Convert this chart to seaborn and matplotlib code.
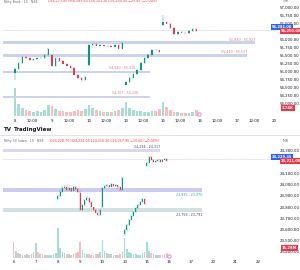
import numpy as np
import pandas as pd
import matplotlib
matplotlib.use("Agg")
import matplotlib.pyplot as plt
import seaborn as sns
from matplotlib.lines import Line2D

# ---------------- data: top chart (Nifty Bank, 15m) ----------------
bank_tick_pos = [0, 4.6, 10, 14.6, 20, 24.6, 30, 34.6, 40, 44.6, 50, 54.6, 60, 64.6, 70]
bank_tick_lbl = ["8", "12:00", "9", "12:00", "10", "12:00", "13", "12:00", "15", "12:00",
                 "16", "12:00", "17", "12:00", "20"]
bank_price_ticks = [57000, 56750, 56500, 56000, 55750, 55500, 55250, 55000, 54750, 54500, 54250, 54000]

bank_open = [54937, 55050, 55250, 55450, 55420, 55330, 55380, 55400, 55410, 55500,
             55500, 55160, 55400, 55300, 55230, 55170, 55090, 54880, 54790, 54720,
             55190, 55810, 55840, 55790, 55800, 55780, 55790, 55760, 55810, 55700,
             54560, 54660, 54780, 54910, 55030, 55250, 55400, 55500, 55660, 55650,
             56440, 56530, 56480, 56340, 56160, 56220, 56200, 56190, 56250, 56320]
bank_close = [55050, 55250, 55450, 55420, 55330, 55380, 55400, 55410, 55500, 55690,
              55160, 55400, 55300, 55230, 55170, 55090, 54880, 54790, 54720, 54810,
              55810, 55840, 55790, 55800, 55780, 55790, 55760, 55810, 55700, 55880,
              54660, 54780, 54910, 55030, 55250, 55400, 55500, 55660, 55650, 55590,
              56530, 56480, 56340, 56160, 56220, 56200, 56190, 56250, 56320, 56250]
bank_high = [55080, 55280, 55480, 55470, 55440, 55400, 55430, 55440, 55520, 55720,
             55530, 55430, 55420, 55330, 55250, 55190, 55110, 54900, 54810, 54840,
             55840, 55870, 55860, 55830, 55820, 55810, 55810, 55830, 55830, 55910,
             54690, 54810, 54940, 55060, 55280, 55430, 55530, 55690, 55690, 55670,
             56750, 56560, 56500, 56360, 56250, 56240, 56220, 56270, 56350, 56340]
bank_low = [54720, 55020, 55220, 55390, 55300, 55310, 55350, 55370, 55390, 55480,
            55130, 55140, 55280, 55210, 55150, 55070, 54860, 54760, 54690, 54700,
            55160, 55780, 55770, 55770, 55760, 55760, 55740, 55740, 55680, 55680,
            54520, 54630, 54750, 54880, 55000, 55220, 55370, 55480, 55620, 55570,
            56410, 56460, 56320, 56140, 56140, 56180, 56170, 56170, 56230, 56230]
bank_vol = [28, 12, 8, 6, 5, 4, 5, 4, 6, 11,
            10, 7, 5, 5, 4, 4, 5, 6, 5, 7,
            11, 8, 6, 5, 4, 4, 4, 5, 6, 8,
            14, 8, 6, 5, 5, 4, 4, 5, 5, 7,
            14, 9, 6, 4, 4, 3, 3, 3, 4, 6]
bank_zone_lo = [55830, 55440, 54940, 54157]
bank_zone_hi = [55927, 55527, 55010, 54226]
bank_zone_end = [64.9, 62.7, 36.5, 36.5]
bank_zone_lbl = ["55,830 - 55,927", "55,440 - 55,527", "54,940 - 55,010", "54,157 - 54,226"]
bank_last = 56281

# ---------------- data: bottom chart (Nifty 50, 15m) ----------------
nifty_tick_pos = [-20, -10, 0, 10, 20, 30, 40, 50, 60, 70, 80, 90]
nifty_tick_lbl = ["6", "7", "8", "9", "10", "13", "15", "16", "17", "20", "21", "22"]
nifty_price_ticks = [24300, 24100, 24000, 23900, 23800, 23700, 23600, 23500, 23400]

nifty_open = [23870, 23900, 23935, 23970, 23980, 23953, 23970, 23944, 23980, 23962,
              23930, 23775, 23820, 23860, 23880, 23845, 23800, 23775, 23750, 23730,
              23800, 23970, 23985, 23995, 23980, 24005, 23990, 23995, 23975, 23950,
              23560, 23596, 23641, 23685, 23721, 23756, 23792, 23819, 23846, 23872,
              24170, 24193, 24247, 24220, 24202, 24211, 24220, 24202, 24220, 24229]
nifty_close = [23900, 23935, 23970, 23980, 23953, 23970, 23944, 23980, 23962, 23935,
               23775, 23820, 23860, 23880, 23845, 23800, 23775, 23750, 23730, 23775,
               23970, 23985, 23995, 23980, 24005, 23990, 23995, 23975, 23950, 24055,
               23596, 23641, 23685, 23721, 23756, 23792, 23819, 23846, 23872, 23828,
               24193, 24247, 24220, 24202, 24211, 24220, 24202, 24220, 24229, 24211]
nifty_high = [23910, 23950, 23985, 23995, 23985, 23980, 23975, 23990, 23990, 23970,
              23940, 23830, 23870, 23895, 23885, 23850, 23805, 23780, 23755, 23785,
              23980, 23995, 24005, 24000, 24015, 24010, 24005, 24000, 23985, 24065,
              23605, 23650, 23695, 23730, 23765, 23800, 23830, 23855, 23885, 23880,
              24205, 24255, 24255, 24230, 24220, 24228, 24225, 24228, 24238, 24235]
nifty_low = [23860, 23890, 23925, 23960, 23945, 23945, 23935, 23940, 23955, 23925,
             23765, 23765, 23810, 23850, 23835, 23790, 23765, 23740, 23720, 23725,
             23790, 23960, 23975, 23970, 23975, 23980, 23980, 23965, 23940, 23945,
             23540, 23585, 23630, 23675, 23710, 23745, 23785, 23810, 23840, 23820,
             24160, 24185, 24212, 24195, 24195, 24205, 24195, 24198, 24215, 24205]
nifty_vol_pre = [16, 7, 5, 4, 3, 3, 4, 3, 4, 6,
                 15, 6, 4, 4, 3, 3, 3, 3, 4, 5]
nifty_vol_pre_dir = ["down", "up", "down", "up", "up", "down", "up", "down", "up", "down",
                     "up", "down", "down", "up", "up", "down", "up", "up", "down", "up"]
nifty_vol = [30, 10, 6, 5, 4, 4, 3, 4, 5, 6,
             16, 8, 5, 4, 4, 3, 3, 4, 4, 6,
             18, 7, 5, 4, 4, 3, 3, 3, 4, 6,
             20, 9, 6, 5, 4, 4, 3, 3, 5, 6,
             16, 7, 5, 4, 3, 3, 3, 3, 4, 5]
nifty_zone_lo = [24294, 23935, 23758]
nifty_zone_hi = [24317, 23970, 23791]
nifty_zone_end = [46.0, 65.0, 65.0]
nifty_zone_lbl = ["24,294 - 24,317", "23,935 - 23,970", "23,758 - 23,791"]
nifty_last = 24229

# ---------------- style ----------------
sns.set_theme(style="white")
plt.rcParams['font.family'] = ['DejaVu Sans']
UP, DN = "#089981", "#f23645"
UPV, DNV = "#a7dbd5", "#f9bcbf"
TXT = "#131722"
FS = 2.8

W, H = 300, 270
fig = plt.figure(figsize=(W / 100, H / 100), dpi=100)
fig.patch.set_facecolor("white")


def ax_at(x0, y0, x1, y1):
    return fig.add_axes([x0 / W, 1 - y1 / H, (x1 - x0) / W, (y1 - y0) / H])


def ptext(x, y, s, **kw):
    kw.setdefault("fontsize", FS)
    kw.setdefault("va", "center")
    return fig.text(x / W, 1 - y / H, s, **kw)


def draw_volume(ax, idx, vol, dirs, xlim, ylim, ticks, labels, pad):
    df = pd.DataFrame({"idx": idx, "vol": vol, "dir": dirs})
    sns.barplot(data=df, x="idx", y="vol", hue="dir", palette={"up": UPV, "down": DNV},
                native_scale=True, dodge=False, width=0.75, linewidth=0, saturation=1,
                errorbar=None, legend=False, ax=ax)
    ax.set_xlim(*xlim)
    ax.set_ylim(*ylim)
    ax.set_xlabel("")
    ax.set_ylabel("")
    ax.set_yticks([])
    ax.set_xticks(ticks)
    ax.set_xticklabels(labels)
    ax.tick_params(axis="x", length=0, pad=pad, labelsize=FS, colors=TXT)
    ax.set_facecolor("white")
    sns.despine(ax=ax, left=True, bottom=True)


def draw_candles(ax, o, h, l, c, width, minh):
    o, h, l, c = map(np.asarray, (o, h, l, c))
    x = np.arange(len(o))
    cols = np.where(c >= o, UP, DN)
    ax.vlines(x, l, h, colors=cols, linewidth=0.3, zorder=3)
    body = c - o
    body = np.where(np.abs(body) < minh, np.where(body >= 0, minh, -minh), body)
    ax.bar(x, body, bottom=o, width=width, color=cols, linewidth=0, zorder=4)


def price_axis(ax, xlim, ylim, ticks, skip_pad=2.2):
    ax.set_xlim(*xlim)
    ax.set_ylim(*ylim)
    ax.set_facecolor("none")
    ax.set_xticks([])
    ax.yaxis.tick_right()
    ax.set_yticks(ticks)
    ax.set_yticklabels([f"{t:,.2f}" for t in ticks])
    ax.tick_params(axis="y", length=0, pad=skip_pad, labelsize=FS, colors=TXT)
    sns.despine(ax=ax, left=True, bottom=True, right=True, top=True)


# ================= TOP PANEL =================
bx = (-3.243, 70.81)
axv1 = ax_at(3, 85, 277, 116)
bank_dirs = ["up" if c >= o else "down" for o, c in zip(bank_open, bank_close)]
draw_volume(axv1, np.arange(len(bank_vol)), bank_vol, bank_dirs, bx, (0, 31),
            bank_tick_pos, bank_tick_lbl, 2.4)

ax1 = ax_at(3, 4, 277, 116)
price_axis(ax1, bx, (53593.75, 57093.75), bank_price_ticks)
for lo, hi, end, lab in zip(bank_zone_lo, bank_zone_hi, bank_zone_end, bank_zone_lbl):
    ax1.fill_between([bx[0], end], lo, hi, color="#c9d2ef", linewidth=0, zorder=1)
ax1.axhline(bank_last, color="#b2b5be", lw=0.4, ls=(0, (1, 1)), zorder=2)
draw_candles(ax1, bank_open, bank_high, bank_low, bank_close, 0.4, 12)

# zone labels
ptext(255, 40, bank_zone_lbl[0], ha="right", color="#e5737a", fontsize=2.3)
ptext(247, 52, bank_zone_lbl[1], ha="right", color="#e5737a", fontsize=2.3)
ptext(135, 68, bank_zone_lbl[2], ha="right", color="#e5737a", fontsize=2.3)
ptext(138, 93, bank_zone_lbl[3], ha="right", color="#e5737a", fontsize=2.3)

# title + labels
ptext(4, 1.5, "Nifty Bank · 15 · NSE", color="#6a6d78", fontsize=2.3)
ptext(48, 1.5, "O56,273.85 H56,289.60 L56,241.10 C56,250.00 −23.85 (−0.04%)",
      color=DN, fontsize=2.3)
ptext(283, 1.5, "INR", color="#6a6d78", fontsize=2.5)
ptext(272, 27, "56,281.00", color="white", fontsize=2.6, fontweight="bold",
      bbox=dict(boxstyle="square,pad=0.25", fc="#2962ff", ec="none"))
ptext(281, 31, "56,250.00", color="white", fontsize=2.6, fontweight="bold",
      bbox=dict(boxstyle="square,pad=0.25", fc=DN, ec="none"))
ptext(282, 108, "3.74K", color="white", fontsize=2.6, fontweight="bold",
      bbox=dict(boxstyle="square,pad=0.3", fc=DN, ec="none"))
axv1.scatter([49.8], [2.5], s=6, facecolor="white", edgecolor="#d05ce3", linewidth=0.5,
             zorder=5, clip_on=False)
ptext(4, 130, "TV", color=TXT, fontsize=4, fontweight="bold")
ptext(14, 130, "TradingView", color=TXT, fontsize=4, fontweight="bold")

fig.add_artist(Line2D([0, 1], [1 - 134.5 / H, 1 - 134.5 / H], color="#e0e3eb", lw=0.8,
                      transform=fig.transFigure))

# ================= BOTTOM PANEL =================
nx = (-24.77, 98.65)
axv2 = ax_at(3, 226, 277, 258)
nifty_dirs = nifty_vol_pre_dir + ["up" if c >= o else "down"
                                  for o, c in zip(nifty_open, nifty_close)]
nifty_idx = np.arange(-len(nifty_vol_pre), len(nifty_vol))
draw_volume(axv2, nifty_idx, nifty_vol_pre + nifty_vol, nifty_dirs, nx, (0, 32),
            nifty_tick_pos, nifty_tick_lbl, 1.6)

ax2 = ax_at(3, 143, 277, 258)
price_axis(ax2, nx, (23346.3, 24371.3), nifty_price_ticks)
zcols = ["#dcd6f2", "#cccbf0", "#cfe2e1"]
for lo, hi, end, col in zip(nifty_zone_lo, nifty_zone_hi, nifty_zone_end, zcols):
    ax2.fill_between([nx[0], end], lo, hi, color=col, linewidth=0, zorder=1)
ax2.axhline(nifty_last, color="#b2b5be", lw=0.4, ls=(0, (1, 1)), zorder=2)
draw_candles(ax2, nifty_open, nifty_high, nifty_low, nifty_close, 0.45, 3)

ptext(160, 147.5, nifty_zone_lbl[0], ha="right", color="#4a4d57", fontsize=2.3)
ptext(202, 194.5, nifty_zone_lbl[1], ha="right", color="#26a69a", fontsize=2.3)
ptext(202, 214.5, nifty_zone_lbl[2], ha="right", color="#4a4d57", fontsize=2.3)

ptext(4, 141, "Nifty 50 Index · 15 · NSE", color="#6a6d78", fontsize=2.3)
ptext(50, 141, "O24,228.70 H24,232.05 L24,216.30 C24,217.95 −10.60 (−0.04%)",
      color=DN, fontsize=2.3)
ptext(283, 141, "INR", color="#6a6d78", fontsize=2.5)
ptext(272, 157, "24,229.35", color="white", fontsize=2.6, fontweight="bold",
      bbox=dict(boxstyle="square,pad=0.25", fc="#2962ff", ec="none"))
ptext(281, 161, "24,211.00", color="white", fontsize=2.6, fontweight="bold",
      bbox=dict(boxstyle="square,pad=0.25", fc=DN, ec="none"))
ptext(282, 248, "16.29M", color="white", fontsize=2.6, fontweight="bold",
      bbox=dict(boxstyle="square,pad=0.3", fc=DN, ec="none"))
axv2.scatter([49.8], [2.5], s=6, facecolor="white", edgecolor="#d05ce3", linewidth=0.5,
             zorder=5, clip_on=False)

fig.savefig("out.png", dpi=100, facecolor="white")
